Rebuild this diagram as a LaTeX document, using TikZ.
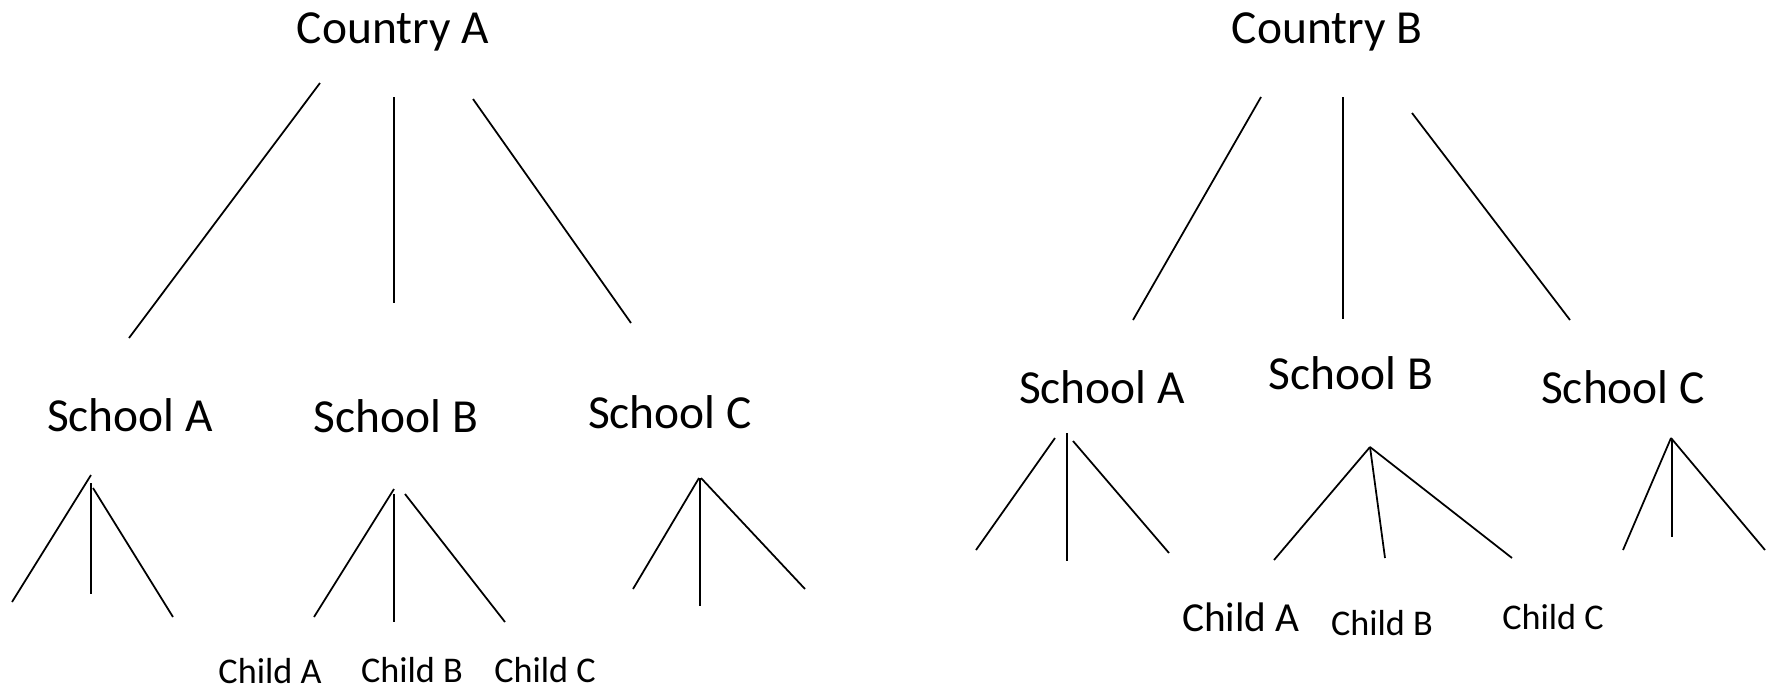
\documentclass[tikz,border=0pt]{standalone}
\usepackage{fontspec}
\setmainfont{Carlito}
\begin{document}
\begin{tikzpicture}[x=0.02cm,y=-0.02cm,
  big/.style={anchor=base,inner sep=0pt,font=\fontsize{27}{32}\selectfont},
  small/.style={anchor=base,inner sep=0pt,font=\fontsize{20.6}{24}\selectfont},
  mid/.style={anchor=base,inner sep=0pt,font=\fontsize{23.5}{28}\selectfont},
  ln/.style={line width=1pt},
  lnb/.style={line width=1.6pt}]
\useasboundingbox (0,0) rectangle (1767,691);
% ---------- left tree ----------
\node[big] (cA) at (393,43) {Country A};
\coordinate (a1t) at (320,83);  \coordinate (a1b) at (129,338);
\coordinate (a2t) at (394,97);  \coordinate (a2b) at (394,303);
\coordinate (a3t) at (473,99);  \coordinate (a3b) at (631,323);
\draw[ln] (a1t) -- (a1b);
\draw[lnb] (a2t) -- (a2b);
\draw[ln] (a3t) -- (a3b);
\node[big] (sAA) at (130,431) {School A};
\node[big] (sAB) at (396,432) {School B};
\node[big] (sAC) at (670,428) {School C};
% School A children
\coordinate (p1) at (91,475); \coordinate (p1b) at (12,602);
\coordinate (p2) at (91,483); \coordinate (p2b) at (91,594);
\coordinate (p3) at (93,488); \coordinate (p3b) at (173,617);
\draw[ln] (p1) -- (p1b); \draw[lnb] (p2) -- (p2b); \draw[ln] (p3) -- (p3b);
% School B children
\coordinate (q1) at (394,489); \coordinate (q1b) at (314,617);
\coordinate (q2) at (394,494); \coordinate (q2b) at (394,622);
\coordinate (q3) at (405,494); \coordinate (q3b) at (505,622);
\draw[ln] (q1) -- (q1b); \draw[lnb] (q2) -- (q2b); \draw[ln] (q3) -- (q3b);
% School C children
\coordinate (r1) at (699,478); \coordinate (r1b) at (633,589);
\coordinate (r2) at (700,478); \coordinate (r2b) at (700,606);
\coordinate (r3) at (701,478); \coordinate (r3b) at (805,589);
\draw[ln] (r1) -- (r1b); \draw[lnb] (r2) -- (r2b); \draw[ln] (r3) -- (r3b);
\node[small] (chA1) at (270,683) {Child A};
\node[small] (chB1) at (412,682) {Child B};
\node[small] (chC1) at (545,682) {Child C};
% ---------- right tree ----------
\node[big] (cB) at (1327,43) {Country B};
\coordinate (b1t) at (1261,97);  \coordinate (b1b) at (1133,320);
\coordinate (b2t) at (1343,97);  \coordinate (b2b) at (1343,319);
\coordinate (b3t) at (1412,113); \coordinate (b3b) at (1570,320);
\draw[ln] (b1t) -- (b1b);
\draw[ln] (b2t) -- (b2b);
\draw[ln] (b3t) -- (b3b);
\node[big] (sBA) at (1102,403) {School A};
\node[big] (sBB) at (1351,389) {School B};
\node[big] (sBC) at (1623,403) {School C};
% School A children
\coordinate (s1) at (1055,438); \coordinate (s1b) at (976,550);
\coordinate (s2) at (1067,433); \coordinate (s2b) at (1067,561);
\coordinate (s3) at (1073,441); \coordinate (s3b) at (1169,553);
\draw[ln] (s1) -- (s1b); \draw[lnb] (s2) -- (s2b); \draw[ln] (s3) -- (s3b);
% School B children
\coordinate (t0) at (1370,447);
\coordinate (t1b) at (1274,560); \coordinate (t2b) at (1385,558); \coordinate (t3b) at (1512,558);
\draw[ln] (t0) -- (t1b); \draw[ln] (t0) -- (t2b); \draw[ln] (t0) -- (t3b);
% School C children
\coordinate (u0) at (1671,438);
\coordinate (u1b) at (1623,550);
\coordinate (u2) at (1672,440); \coordinate (u2b) at (1672,537);
\coordinate (u3b) at (1765,550);
\draw[ln] (u0) -- (u1b); \draw[ln] (u2) -- (u2b); \draw[ln] (u0) -- (u3b);
\node[mid] (chA2) at (1241,631) {Child A};
\node[small] (chB2) at (1382,635) {Child B};
\node[small] (chC2) at (1553,629) {Child C};
\end{tikzpicture}
\end{document}
